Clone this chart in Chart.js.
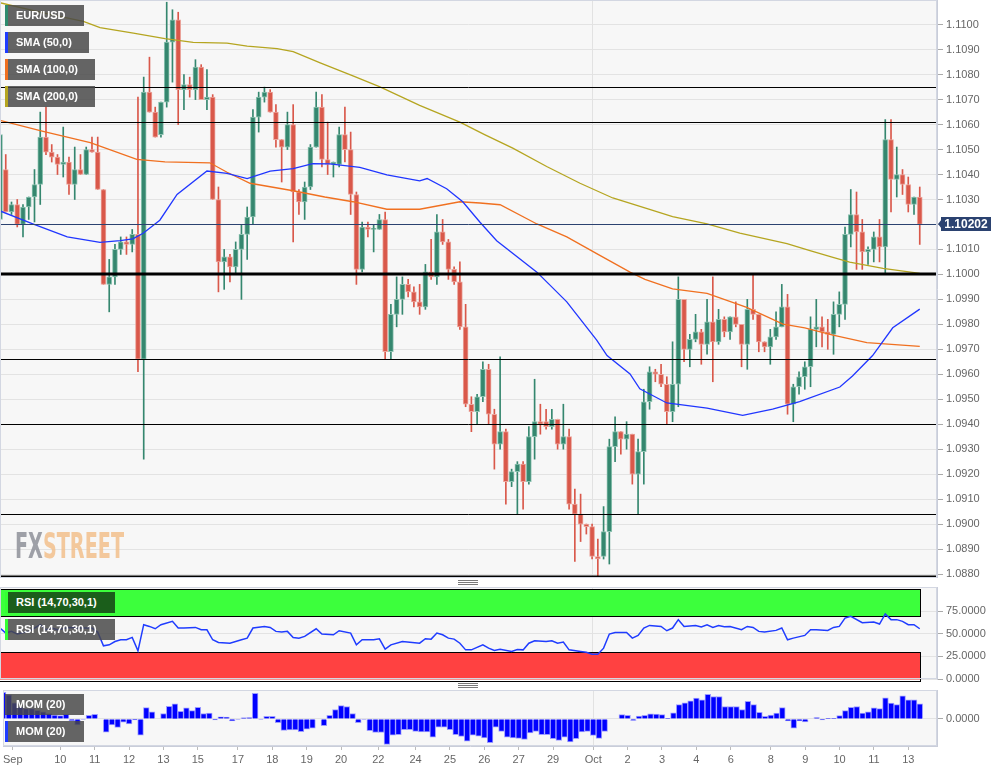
<!DOCTYPE html>
<html>
<head>
<meta charset="utf-8">
<script src="https://cdn.jsdelivr.net/npm/chart.js@4.4.1/dist/chart.umd.min.js"></script>
<style>
  body { margin: 0; background: #fff; width: 1008px; height: 772px; overflow: hidden; position: relative; font-family: "Liberation Sans", Arial, sans-serif; }
  canvas { position: absolute; left: 0; }
  .lbl { position: absolute; left: 5px; height: 21px; line-height: 21px; color: #fff; font-weight: bold; font-size: 11px;
         padding-left: 8px; box-sizing: border-box; border-left: 3px solid; background: rgba(72,72,72,0.84); z-index: 5; white-space: nowrap; }
  .grip { position: absolute; left: 458px; width: 20px; height: 1px; background: #7a7a7a; z-index: 5; }
</style>
</head>
<body>
<canvas id="main" width="1008" height="578" style="top:0"></canvas>
<canvas id="rsi" width="1008" height="100" style="top:585px"></canvas>
<canvas id="mom" width="1008" height="84" style="top:688px"></canvas>

<div class="lbl" style="top:5px;width:79px;border-color:#2e8b6e">EUR/USD</div>
<div class="lbl" style="top:32px;width:84px;border-color:#1f3cff">SMA (50,0)</div>
<div class="lbl" style="top:59px;width:90px;border-color:#f07020">SMA (100,0)</div>
<div class="lbl" style="top:86px;width:90px;border-color:#b5a520">SMA (200,0)</div>
<div class="lbl" style="top:592px;width:110px;border-color:#33ff33;background:#1b5e1b">RSI (14,70,30,1)</div>
<div class="lbl" style="top:619px;width:110px;border-color:#33ff33">RSI (14,70,30,1)</div>
<div class="lbl" style="top:694px;width:79px;border-color:transparent">MOM (20)</div>
<div class="lbl" style="top:721px;width:79px;border-color:#1f3cff">MOM (20)</div>

<div class="grip" style="top:580px"></div>
<div class="grip" style="top:582px"></div>
<div class="grip" style="top:584px"></div>
<div class="grip" style="top:683px"></div>
<div class="grip" style="top:685px"></div>
<div class="grip" style="top:687px"></div>

<script>
// ---- 4H candles, EUR/USD (index = candle number)
const opens = [
  1.1022,1.1042,1.1025,1.1028,1.1020,1.1027,1.1031,1.1036,1.1055,1.1049,
  1.1047,1.1044,1.1045,1.1036,1.1042,1.1040,1.1050,1.1049,1.1034,1.0996,
  1.0999,1.1010,1.1013,1.1012,1.1016,1.0966,1.1073,1.1065,1.1056,1.1069,
  1.1093,1.1102,1.1074,1.1076,1.1074,1.1083,1.1070,1.1071,1.1030,1.1005,
  1.1007,1.1003,1.1010,1.1016,1.1023,1.1063,1.1071,1.1073,1.1065,1.1054,
  1.1051,1.1060,1.1033,1.1029,1.1035,1.1051,1.1067,1.1046,1.1044,1.1044,
  1.1056,1.1050,1.1032,1.1002,1.1019,1.1018,1.1018,1.1022,1.0969,1.0984,
  1.0990,1.0996,1.0993,1.0989,1.0987,1.1001,1.0999,1.1017,1.1013,1.1002,
  1.0997,1.0979,1.0948,1.0945,1.0951,1.0962,1.0944,1.0932,1.0937,1.0917,
  1.0921,1.0924,1.0917,1.0935,1.0941,1.0941,1.0939,1.0942,1.0932,1.0935,
  1.0908,1.0904,1.0900,1.0899,1.0887,1.0887,1.0897,1.0931,1.0937,1.0934,
  1.0936,1.0920,1.0929,1.0949,1.0961,1.0960,1.0956,1.0945,1.0956,1.0990,
  1.0970,1.0974,1.0977,1.0972,1.0981,1.0973,1.0982,1.0977,1.0983,1.0980,
  1.0972,1.0986,1.0984,1.0973,1.0971,1.0975,1.0979,1.0987,1.0948,1.0955,
  1.0959,1.0963,1.0978,1.0979,1.0977,1.0976,1.0984,1.0988,1.1016,1.1024,
  1.1017,1.1009,1.1010,1.1015,1.1011,1.1054,1.1038,1.1040,1.1036,1.1028,
  1.1031
];
const highs = [
  1.1057,1.1048,1.1029,1.1030,1.1028,1.1031,1.1042,1.1065,1.1067,1.1052,
  1.1048,1.1059,1.1047,1.1051,1.1048,1.1051,1.1055,1.1055,1.1034,1.1006,
  1.1012,1.1015,1.1015,1.1018,1.1071,1.1079,1.1087,1.1067,1.1069,1.1109,
  1.1106,1.1105,1.1080,1.1079,1.1086,1.1084,1.1082,1.1072,1.1035,1.1010,
  1.1008,1.1013,1.1020,1.1027,1.1066,1.1073,1.1075,1.1074,1.1068,1.1054,
  1.1065,1.1068,1.1034,1.1037,1.1052,1.1073,1.1072,1.1061,1.1045,1.1059,
  1.1067,1.1057,1.1033,1.1021,1.1021,1.1020,1.1024,1.1025,1.0988,1.0999,
  1.0999,1.0998,1.0995,1.0996,1.1004,1.1014,1.1024,1.1022,1.1014,1.1003,
  1.1005,1.0988,1.0951,1.0952,1.0965,1.0964,1.0946,1.0967,1.0938,1.0922,
  1.0925,1.0925,1.0939,1.0958,1.0948,1.0946,1.0946,1.0942,1.0948,1.0938,
  1.0914,1.0912,1.0900,1.0900,1.0894,1.0907,1.0934,1.0943,1.0937,1.0941,
  1.0936,1.0934,1.0954,1.0963,1.0962,1.0964,1.0959,1.0973,1.0999,1.0990,
  1.0976,1.0984,1.0978,1.0990,1.0999,1.0986,1.0983,1.0983,1.0989,1.0980,
  1.0990,1.1000,1.0984,1.0973,1.0978,1.0985,1.0996,1.0992,1.0956,1.0961,
  1.0965,1.0983,1.0990,1.0983,1.0982,1.0989,1.0993,1.1019,1.1034,1.1033,
  1.1022,1.1011,1.1017,1.1022,1.1062,1.1062,1.1051,1.1042,1.1039,1.1031,
  1.1035
];
const lows = [
  1.1021,1.1025,1.1024,1.1019,1.1015,1.1022,1.1021,1.1028,1.1048,1.1045,
  1.1040,1.1039,1.1032,1.1030,1.1040,1.1040,1.1049,1.1034,1.0996,1.0985,
  1.0996,1.1008,1.1008,1.1009,1.0961,1.0926,1.1065,1.1055,1.1055,1.1067,
  1.1077,1.1060,1.1066,1.1071,1.1070,1.1070,1.1066,1.1030,1.0993,1.0994,
  1.0997,1.1000,1.0990,1.1006,1.1020,1.1057,1.1069,1.1065,1.1051,1.1037,
  1.1050,1.1013,1.1024,1.1022,1.1034,1.1051,1.1043,1.1040,1.1039,1.1043,
  1.1045,1.1024,1.0996,1.1001,1.1015,1.1009,1.1018,1.0966,1.0966,1.0979,
  1.0984,1.0991,1.0987,1.0984,1.0986,1.0998,1.0996,1.1012,1.0998,1.0996,
  1.0978,1.0947,1.0937,1.0940,1.0949,1.0940,1.0922,1.0930,1.0908,1.0915,
  1.0904,1.0906,1.0916,1.0926,1.0936,1.0938,1.0938,1.0930,1.0930,1.0906,
  1.0885,1.0893,1.0896,1.0886,1.0879,1.0886,1.0884,1.0925,1.0928,1.0930,
  1.0916,1.0904,1.0916,1.0946,1.0957,1.0955,1.0940,1.0941,1.0947,1.0965,
  1.0963,1.0973,1.0964,1.0968,1.0957,1.0972,1.0975,1.0974,1.0979,1.0963,
  1.0962,1.0982,1.0969,1.0969,1.0964,1.0974,1.0979,1.0944,1.0941,1.0952,
  1.0954,1.0955,1.0971,1.0971,1.0970,1.0968,1.0979,1.0982,1.1011,1.1002,
  1.1002,1.1004,1.1005,1.1005,1.1000,1.1025,1.1031,1.1032,1.1025,1.1024,
  1.1012
];
const closes = [
  1.1056,1.1025,1.1028,1.1020,1.1027,1.1031,1.1036,1.1055,1.1049,1.1047,
  1.1044,1.1045,1.1036,1.1042,1.1040,1.1050,1.1049,1.1034,1.0996,1.0999,
  1.1010,1.1013,1.1012,1.1016,1.0966,1.1073,1.1065,1.1055,1.1069,1.1093,
  1.1102,1.1074,1.1076,1.1074,1.1083,1.1070,1.1071,1.1030,1.1005,1.1007,
  1.1003,1.1010,1.1016,1.1023,1.1063,1.1071,1.1073,1.1065,1.1054,1.1051,
  1.1060,1.1033,1.1029,1.1035,1.1051,1.1067,1.1046,1.1044,1.1045,1.1056,
  1.1050,1.1032,1.1002,1.1019,1.1018,1.1018,1.1022,1.0969,1.0984,1.0990,
  1.0996,1.0993,1.0989,1.0987,1.1001,1.0999,1.1017,1.1013,1.1002,1.0997,
  1.0979,1.0948,1.0945,1.0951,1.0962,1.0944,1.0932,1.0937,1.0917,1.0921,
  1.0924,1.0917,1.0935,1.0941,1.0940,1.0939,1.0942,1.0932,1.0935,1.0908,
  1.0904,1.0900,1.0899,1.0887,1.0886,1.0897,1.0931,1.0937,1.0934,1.0936,
  1.0920,1.0929,1.0949,1.0961,1.0960,1.0956,1.0945,1.0956,1.0990,1.0970,
  1.0974,1.0977,1.0972,1.0981,1.0973,1.0982,1.0977,1.0983,1.0980,1.0972,
  1.0986,1.0984,1.0973,1.0971,1.0975,1.0979,1.0987,1.0948,1.0955,1.0959,
  1.0963,1.0978,1.0979,1.0977,1.0976,1.0984,1.0988,1.1016,1.1024,1.1017,
  1.1009,1.1010,1.1015,1.1011,1.1054,1.1038,1.1040,1.1036,1.1028,1.1031,
  1.1020
];

// moving averages (candle position, value)
const sma50X = [0,5.7,11.7,17.4,20.9,23.1,24.9,27.8,30.8,36,39.5,43,47,51,54.4,57.4,62.6,67.3,73,74.3,77.7,80.5,83.5,86.4,93.4,98.6,103.8,105.6,109.6,111.3,116,123,129.2,134.4,139.1,146.1,148.3,151.8,155.3,160];
const sma50Y = [1.10254,1.10202,1.10150,1.10128,1.10135,1.10142,1.10165,1.10217,1.10320,1.10414,1.10405,1.10384,1.10414,1.10424,1.10444,1.10443,1.10429,1.10399,1.10375,1.10384,1.10343,1.10291,1.10209,1.10135,1.10009,1.09890,1.09737,1.09675,1.09601,1.09542,1.09485,1.09464,1.09435,1.09460,1.09490,1.09549,1.09593,1.09675,1.09786,1.09861];
const sma100X = [0,7.5,15.7,23.8,28.7,36.5,39.5,43.5,51,56.5,61.4,67.3,73,80,83.5,87,93.4,98.6,103.8,109.6,112.2,117,123,129.9,136.2,140,144.9,150.8,160];
const sma100Y = [1.10617,1.10573,1.10528,1.10461,1.10451,1.10447,1.10409,1.10365,1.10335,1.10310,1.10291,1.10261,1.10261,1.10291,1.10286,1.10279,1.10202,1.10150,1.10083,1.10009,1.09980,1.09942,1.09924,1.09868,1.09801,1.09786,1.09757,1.09727,1.09712];
const sma200X = [0,7.5,14.5,17.4,23.2,28.7,33.6,39.5,43,48.2,51,55.7,61.4,66.1,73,80,84.3,89.2,95.1,100.9,106.6,113,117,123,128.7,136.9,140.9,144.9,147.8,153.6,160];
const sma200Y = [1.11088,1.11047,1.11013,1.10988,1.10966,1.10944,1.10929,1.10926,1.10914,1.10904,1.10892,1.10847,1.10795,1.10751,1.10677,1.10610,1.10560,1.10506,1.10432,1.10365,1.10306,1.10260,1.10231,1.10202,1.10165,1.10123,1.10095,1.10068,1.10049,1.10024,1.10004];

// RSI (14) vertices
const rsiX = [0,1,2,3,5,6,7,8,9,10,12,14,16,17,18,19,20,21,22,23,24,25,26,27,28,30,31,32,34,35,36,37,38,40,42,43,44,46,47,48,49,50,51,52,53,55,56,58,59,61,62,63,65,66,67,68,70,73,74,75,76,77,78,79,80,81,82,84,85,86,87,89,90,91,92,93,95,96,97,98,99,101,102,103,104,105,106,107,109,110,111,112,113,115,116,117,118,119,121,122,123,124,125,126,127,129,130,131,132,133,135,136,137,138,140,141,142,144,145,146,147,148,150,152,153,154,155,156,157,158,159,160];
const rsiY = [56.5,50.9,52.8,49.8,52.8,56.5,60.2,54.6,56.5,54.6,57.2,56.5,56.5,52.0,36.8,37.9,41.6,43.5,43.5,46.1,31.2,60.2,58.3,55.7,60.2,63.9,56.5,56.5,57.2,54.6,54.6,43.5,40.5,39.7,43.5,45.3,56.5,58.3,57.2,52.8,52.0,52.8,46.1,45.3,47.2,55.7,49.8,49.0,53.5,50.9,37.9,43.5,43.5,44.6,33.1,37.9,41.6,39.7,44.6,44.2,50.9,49.0,45.3,44.2,39.7,32.3,32.3,37.9,34.2,31.6,33.1,30.5,32.7,32.3,39.7,42.4,41.6,42.4,39.7,40.9,32.3,30.5,29.7,27.5,27.5,34.2,49.8,51.6,51.6,45.3,48.3,56.5,59.4,58.3,53.5,56.5,65.8,58.3,59.4,57.6,60.2,57.2,59.4,58.0,58.3,54.6,58.3,57.2,52.8,52.0,53.9,56.5,43.5,45.3,48.3,54.6,54.6,53.9,57.2,58.3,67.6,69.5,62.5,63.2,60.9,72.1,65.8,65.8,63.9,60.2,60.2,55.7];

// MOM (20), in pips, one bar per candle
const momPips = [
  98,89,60,44,38,38,32,26,20,14,12,17,-6,-22,-2,13,17,0,-49,-22,
  -31,-12,-18,-4,-60,42,26,0,20,47,56,28,41,31,43,20,22,-4,8,7,
  -7,-2,4,5,95,-2,10,10,-14,-42,-41,-41,-47,-38,-34,0,-25,13,35,49,
  46,20,-14,-2,-43,-50,-50,-94,-60,-58,-40,-40,-46,-48,-48,-67,-30,-30,-40,-58,
  -65,-82,-60,-64,-70,-88,-30,-46,-67,-70,-72,-76,-52,-46,-58,-58,-73,-79,-67,-85,
  -73,-48,-46,-61,-72,-46,0,0,16,13,-5,11,13,19,18,16,2,23,53,60,
  67,77,71,91,83,83,46,46,46,35,65,53,24,10,14,22,42,-7,-34,-7,
  -11,0,5,-4,2,2,12,31,43,46,22,26,41,38,78,59,53,85,71,71,
  56
];

const priceTicks = [1.0880,1.0890,1.0900,1.0910,1.0920,1.0930,1.0940,1.0950,1.0960,1.0970,1.0980,1.0990,
                    1.1000,1.1010,1.1020,1.1030,1.1040,1.1050,1.1060,1.1070,1.1080,1.1090,1.1100];
const rsiTicks = [0, 25, 50, 75];
const momTicks = [0];
const levels = [1.1075, 1.1061, 1.1000, 1.0966, 1.0940, 1.0904, 1.0879];
const majorLevels = [1.1000, 1.0879];
const lastPrice = 1.10202;
const dayTickIdx = [1.7,10,16,22,28,34,41,47,53,59,65.5,72,78,84,90,96,103,109,115,121,127,134,140,146,152,158];
const dayTickLbl = ['Sep','10','11','12','13','15','17','18','19','20','22','24','25','26','27','29','Oct','2','3','4','6','8','9','10','11','13'];
const octIdx = 103;

Chart.defaults.font.family = '"Liberation Sans", Arial, sans-serif';
Chart.defaults.font.size = 11;
Chart.defaults.color = '#666';

const GREEN = '#35876f', RED = '#d9584a';
const XMAX = 163;
const AXIS_W = 71;

// shared bits
const baseOpts = {
  responsive: false,
  animation: false,
  events: [],
  plugins: { legend: { display: false }, tooltip: { enabled: false } }
};
// right value axis; labels are painted by the ylab plugin so the axis adds no padding
function rightAxis(min, max, values) {
  return {
    position: 'right', min, max, beginAtZero: false,
    afterFit: s => { s.width = AXIS_W; },
    afterBuildTicks: s => { s.ticks = values.map(v => ({ value: v })); },
    ticks: { display: false },
    grid: { color: '#e3e3e3', tickLength: 6, tickColor: '#aaa' },
    border: { color: '#c9cdd9' }
  };
}
const ylab = {
  id: 'ylab',
  afterDraw(c, args, o) {
    const { ctx, chartArea: a } = c;
    const ys = c.scales.y;
    ctx.save();
    ctx.fillStyle = '#666';
    ctx.font = '11px "Liberation Sans", Arial, sans-serif';
    ctx.textAlign = 'left';
    ctx.textBaseline = 'middle';
    o.values.forEach(v => ctx.fillText((v / o.div).toFixed(4), a.right + 9, ys.getPixelForValue(v)));
    ctx.restore();
  }
};
const panelBg = {
  id: 'panelBg',
  beforeDraw(c) {
    const { ctx, chartArea: a } = c;
    ctx.save();
    ctx.fillStyle = '#f7f7f7';
    ctx.fillRect(a.left, a.top, a.right - a.left, a.bottom - a.top);
    ctx.restore();
  },
  beforeDatasetsDraw(c) {
    const { ctx, chartArea: a } = c;
    const x = Math.round(c.scales.x.getPixelForValue(octIdx)) + 0.5;
    ctx.save();
    ctx.strokeStyle = '#e2e2e2';
    ctx.lineWidth = 1;
    ctx.beginPath(); ctx.moveTo(x, a.top); ctx.lineTo(x, a.bottom); ctx.stroke();
    ctx.restore();
  },
  afterDraw(c) {
    const { ctx, chartArea: a } = c;
    ctx.save();
    ctx.strokeStyle = '#d3d7e2';
    ctx.lineWidth = 1;
    ctx.strokeRect(a.left + 0.5, a.top + 0.5, a.right - a.left - 1, a.bottom - a.top - 1);
    ctx.restore();
  }
};

// ---------------- main price panel
const n = opens.length;
const idx = opens.map((_, i) => i);
const up = idx.map(i => closes[i] >= opens[i]);

const mainDecor = {
  id: 'mainDecor',
  beforeDatasetsDraw(c) {
    // watermark
    const ctx = c.ctx;
    ctx.save();
    ctx.globalAlpha = 0.85;
    ctx.font = 'bold 36px "DejaVu Sans Condensed", "Liberation Sans Narrow", sans-serif';
    const w1 = ctx.measureText('FX').width, w2 = ctx.measureText('STREET').width;
    ctx.translate(15, 558);
    ctx.scale(109 / (w1 + w2), 1);
    ctx.fillStyle = '#8e9099';
    ctx.fillText('FX', 0, 0);
    ctx.fillStyle = '#f2c08c';
    ctx.fillText('STREET', w1, 0);
    ctx.restore();
  },
  afterDatasetsDraw(c) {
    const { ctx, chartArea: a } = c;
    const ys = c.scales.y;
    ctx.save();
    levels.forEach(v => {
      const thick = majorLevels.includes(v);
      const y = Math.round(ys.getPixelForValue(v)) + (thick ? 0 : 0.5);
      ctx.strokeStyle = '#000';
      ctx.lineWidth = thick ? 3 : 1;
      ctx.beginPath(); ctx.moveTo(a.left, y); ctx.lineTo(a.right, y); ctx.stroke();
    });
    const yp = Math.round(ys.getPixelForValue(lastPrice)) + 0.5;
    ctx.strokeStyle = '#2b4270';
    ctx.lineWidth = 1;
    ctx.beginPath(); ctx.moveTo(a.left, yp); ctx.lineTo(a.right, yp); ctx.stroke();
    ctx.restore();
  },
  afterDraw(c) {
    const { ctx, chartArea: a } = c;
    const y = Math.round(c.scales.y.getPixelForValue(lastPrice));
    ctx.save();
    ctx.fillStyle = '#2b4270';
    ctx.beginPath();
    ctx.moveTo(a.right + 1, y);
    ctx.lineTo(a.right + 5, y - 5);
    ctx.lineTo(a.right + 5, y + 5);
    ctx.closePath(); ctx.fill();
    ctx.fillRect(a.right + 4, y - 7, 50, 14);
    ctx.fillStyle = '#fff';
    ctx.font = 'bold 12px "Liberation Sans", Arial, sans-serif';
    ctx.textAlign = 'center'; ctx.textBaseline = 'middle';
    ctx.fillText(lastPrice.toFixed(5), a.right + 29, y + 0.5);
    ctx.restore();
  }
};

new Chart(document.getElementById('main'), {
  type: 'bar',
  data: {
    datasets: [
      { type: 'line', data: sma50X.map((x, i) => ({ x, y: sma50Y[i] })), borderColor: '#2036ff', borderWidth: 1.3, pointRadius: 0, order: 0 },
      { type: 'line', data: sma100X.map((x, i) => ({ x, y: sma100Y[i] })), borderColor: '#f07020', borderWidth: 1.3, pointRadius: 0, order: 0 },
      { type: 'line', data: sma200X.map((x, i) => ({ x, y: sma200Y[i] })), borderColor: '#b5a520', borderWidth: 1.3, pointRadius: 0, order: 0 },
      {
        data: idx.map(i => ({ x: i, y: [opens[i], closes[i]] })),
        backgroundColor: up.map(u => u ? GREEN : RED),
        borderColor: up.map(u => u ? '#8cc2b0' : '#eba59c'),
        borderWidth: 1, borderSkipped: false, barThickness: 5, minBarLength: 1, grouped: false, order: 1
      },
      {
        data: idx.map(i => ({ x: i, y: [lows[i], highs[i]] })),
        backgroundColor: up.map(u => u ? GREEN : RED),
        barThickness: 1, grouped: false, order: 2
      }
    ]
  },
  options: Object.assign({}, baseOpts, {
    layout: { autoPadding: false, padding: 0 },
    plugins: { legend: { display: false }, tooltip: { enabled: false }, ylab: { values: priceTicks, div: 1 } },
    scales: {
      x: { type: 'linear', min: 0, max: XMAX, offset: false, display: false },
      y: rightAxis(1.08784, 1.11099, priceTicks)
    }
  }),
  plugins: [panelBg, ylab, mainDecor]
});

// ---------------- RSI panel
const rsiBands = {
  id: 'rsiBands',
  beforeDatasetsDraw(c) {
    const { ctx, chartArea: a } = c;
    const xs = c.scales.x, ys = c.scales.y;
    const x1 = Math.round(xs.getPixelForValue(n - 1)) + 0.5;
    ctx.save();
    ctx.lineWidth = 1;
    ctx.strokeStyle = '#000';
    let yt = Math.round(ys.getPixelForValue(100)) + 0.5, yb = Math.round(ys.getPixelForValue(70)) + 0.5;
    ctx.fillStyle = '#3cff3c';
    ctx.fillRect(a.left, yt, x1 - a.left, yb - yt);
    ctx.strokeRect(a.left - 1, yt, x1 - a.left + 1, yb - yt);
    yt = Math.round(ys.getPixelForValue(30)) + 0.5; yb = Math.round(ys.getPixelForValue(0)) + 0.5;
    ctx.fillStyle = '#ff4141';
    ctx.fillRect(a.left, yt, x1 - a.left, yb - yt);
    ctx.strokeRect(a.left - 1, yt, x1 - a.left + 1, yb - yt + 2);
    ctx.restore();
  }
};

new Chart(document.getElementById('rsi'), {
  type: 'line',
  data: {
    datasets: [{ data: rsiX.map((x, i) => ({ x, y: rsiY[i] })), borderColor: '#1f3cff', borderWidth: 1.5, pointRadius: 0 }]
  },
  options: Object.assign({}, baseOpts, {
    layout: { autoPadding: false, padding: { top: 2, bottom: 6 } },
    plugins: { legend: { display: false }, tooltip: { enabled: false }, ylab: { values: rsiTicks, div: 1 } },
    scales: {
      x: { type: 'linear', min: 0, max: XMAX, offset: false, display: false },
      y: rightAxis(0, 102, rsiTicks)
    }
  }),
  plugins: [panelBg, rsiBands, ylab]
});

// ---------------- MOM panel
new Chart(document.getElementById('mom'), {
  type: 'bar',
  data: {
    datasets: [{
      data: momPips.map((v, i) => ({ x: i, y: v })),
      backgroundColor: '#0000ff', borderColor: '#9c9cff', borderWidth: 1,
      barPercentage: 1, categoryPercentage: 1
    }]
  },
  options: Object.assign({}, baseOpts, {
    layout: { autoPadding: false, padding: { top: 2 } },
    plugins: { legend: { display: false }, tooltip: { enabled: false }, ylab: { values: momTicks, div: 10000 } },
    scales: {
      x: {
        type: 'linear', min: 0, max: XMAX, offset: false,
        afterFit: s => { s.height = 26; },
        afterBuildTicks: s => { s.ticks = dayTickIdx.map(v => ({ value: v })); },
        ticks: { autoSkip: false, maxRotation: 0, padding: 3, color: '#666', callback: (v, i) => dayTickLbl[i] },
        grid: { drawOnChartArea: false, offset: false, tickLength: 4, color: '#bbb' },
        border: { color: '#c9cdd9' }
      },
      y: rightAxis(-100, 107, momTicks)
    }
  }),
  plugins: [panelBg, ylab]
});
</script>
</body>
</html>
